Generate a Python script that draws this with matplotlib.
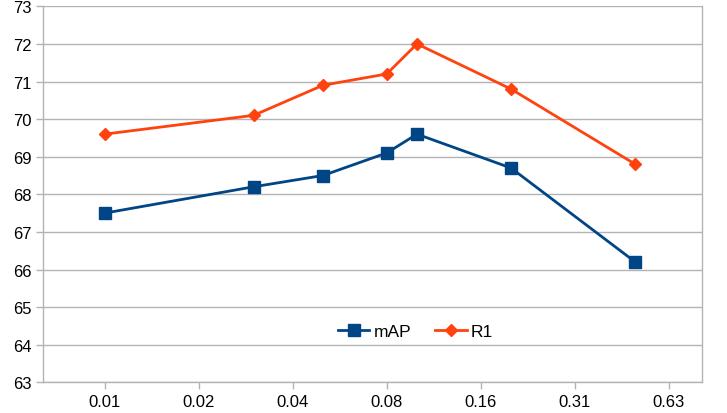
import matplotlib
matplotlib.use('Agg')
import matplotlib.pyplot as plt

x_vals = [0.01, 0.03, 0.05, 0.08, 0.1, 0.2, 0.5]
map_vals = [67.5, 68.2, 68.5, 69.1, 69.6, 68.7, 66.2]
r1_vals = [69.6, 70.1, 70.9, 71.2, 72.0, 70.8, 68.8]
xtick_labels = ['0.01', '0.02', '0.04', '0.08', '0.16', '0.31', '0.63']

BLUE = '#004586'
ORANGE = '#ff420e'
GRID = '#b3b3b3'

plt.rcParams['font.family'] = ['Liberation Sans', 'DejaVu Sans']

fig = plt.figure(figsize=(7.27, 4.14), dpi=100)
ax = fig.add_axes([43.3 / 727, (414 - 383.3) / 414, 659 / 727, 376 / 414])

ax.plot(x_vals, map_vals, color=BLUE, lw=2.0, marker='s', ms=8, label='mAP')
ax.plot(x_vals, r1_vals, color=ORANGE, lw=2.0, marker='D', ms=6, label='R1')

ax.set_xscale('log', base=2)
ticks = [0.01 * 2 ** k for k in range(len(xtick_labels))]
ax.set_xticks(ticks)
ax.set_xticklabels(xtick_labels)
ax.minorticks_off()
ax.set_xlim(0.01 * 2 ** -0.653, 0.01 * 2 ** 6.357)

ax.set_ylim(63, 73)
ax.set_yticks(range(63, 74))
ax.yaxis.grid(True, color=GRID, lw=1)
ax.set_axisbelow(True)

for s in ax.spines.values():
    s.set_color(GRID)
    s.set_linewidth(1)
ax.spines['top'].set_visible(False)

ax.tick_params(axis='both', colors=GRID, labelcolor='black', labelsize=12,
               length=5, width=1, direction='out')

ax.legend(loc='center', bbox_to_anchor=(0.565, 0.134), ncol=2, frameon=False,
          fontsize=12.5, handlelength=1.8, columnspacing=1.4, handletextpad=0.25)

fig.savefig('out.png', dpi=100, facecolor='white')
